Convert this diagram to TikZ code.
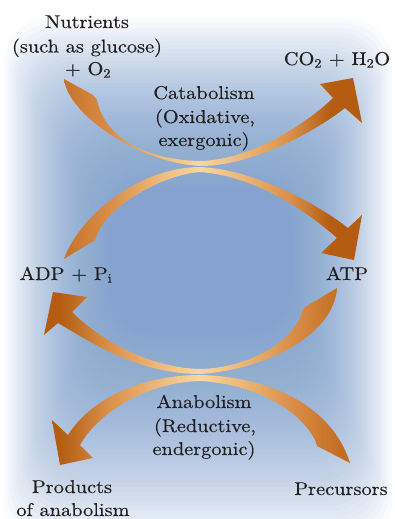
\documentclass[tikz,border=0pt]{standalone}
\usepackage{fontspec}
\setmainfont{lmroman10-regular}[Extension=.otf, FakeStretch=1.1, FakeBold=0.35]

\definecolor{ink}{HTML}{231F20}
\definecolor{bgblue}{HTML}{7CA0D0}
\definecolor{arrowhead}{HTML}{B35C12}
\definecolor{arrowtail}{HTML}{C46E24}
\definecolor{arrowmid}{HTML}{D98E48}
\definecolor{arrowsoft}{HTML}{EDB87A}
\definecolor{arrowlight}{HTML}{FAD6A0}

% x positions 0..394 map to 25bp..75bp of the shading
\pgfdeclarehorizontalshading{headright}{100bp}{color(0bp)=(arrowtail); color(32bp)=(arrowtail); color(39bp)=(arrowmid); color(45bp)=(arrowsoft); color(50.4bp)=(arrowlight); color(55.5bp)=(arrowsoft); color(62bp)=(arrowmid); color(67bp)=(arrowhead); color(100bp)=(arrowhead)}
\pgfdeclarehorizontalshading{headleft}{100bp}{color(0bp)=(arrowhead); color(32.5bp)=(arrowhead); color(38.5bp)=(arrowmid); color(45bp)=(arrowsoft); color(50.2bp)=(arrowlight); color(55.5bp)=(arrowsoft); color(62bp)=(arrowmid); color(68bp)=(arrowtail); color(100bp)=(arrowtail)}

\tikzset{
  lbl/.style={text=ink, inner sep=0pt, anchor=base, font=\fontsize{18.5}{23.5}\selectfont},
  haze/.style={fill=bgblue, fill opacity=0.04, rounded corners=45pt}
}

\begin{document}
\begin{tikzpicture}[x=1pt, y=-1pt]
\useasboundingbox (0,0) rectangle (394,519);
\fill[white] (0,0) rectangle (394,519);

% soft blue backdrop built from stacked translucent layers
\foreach \i in {0,...,47}{
  \pgfmathsetmacro\f{(\i/47)^0.9}
  \pgfmathsetmacro\xl{4+\f*106}
  \pgfmathsetmacro\xr{392-\f*100}
  \pgfmathsetmacro\yt{18+\f*172}
  \pgfmathsetmacro\yb{545-\f*215}
  \fill[haze] (\xl,\yt) rectangle (\xr,\yb);
}

% catabolism: nutrients -> CO2 + H2O
\begin{scope}
  \clip (64,79) .. controls (68,115) and (140,163) .. (200,166)
        .. controls (250,166) and (310,135) .. (345,108)
        -- (362,123) -- (353,78) -- (320,84) -- (333,98)
        .. controls (305,125) and (250,160) .. (200,161)
        .. controls (150,160) and (105,140) .. (97,100) -- (93,95) -- cycle;
  \shade[shading=headright] (0,0) rectangle (394,519);
\end{scope}

% catabolism: ADP + Pi -> ATP
\begin{scope}
  \clip (64,259) .. controls (80,215) and (140,167) .. (200,167)
        .. controls (250,169) and (312,200) .. (348,228)
        -- (362,215) -- (354,260) -- (321,253) -- (337,238)
        .. controls (305,210) and (255,176) .. (200,172)
        .. controls (165,174) and (108,205) .. (97,235) -- (95,240) -- cycle;
  \shade[shading=headright] (0,0) rectangle (394,519);
\end{scope}

% anabolism: ATP -> ADP + Pi
\begin{scope}
  \clip (337,288) .. controls (334,335) and (265,370) .. (200,374)
        .. controls (140,374) and (95,345) .. (58,323)
        -- (44,335) -- (53,292) -- (87,297) -- (72,312)
        .. controls (100,340) and (150,368) .. (200,369)
        .. controls (250,368) and (295,340) .. (302,312) -- (305,307) -- cycle;
  \shade[shading=headleft] (0,0) rectangle (394,519);
\end{scope}

% anabolism: precursors -> products
\begin{scope}
  \clip (350,463) .. controls (330,400) and (260,376) .. (200,375)
        .. controls (140,375) and (90,400) .. (68,435)
        -- (52,420) -- (60,465) -- (93,458) -- (80,445)
        .. controls (100,410) and (150,382) .. (200,381)
        .. controls (255,384) and (300,410) .. (315,440) -- (317,446) -- cycle;
  \shade[shading=headleft] (0,0) rectangle (394,519);
\end{scope}

% labels
\node[lbl] (nut1) at (87,28) {Nutrients};
\node[lbl] (nut2) at (87,52.5) {(such as glucose)};
\node[lbl] (nut3) at (88,75) {+ O\textsubscript{2}};
\node[lbl] (waste) at (337,65) {CO\textsubscript{2} + H\textsubscript{2}O};
\node[lbl] (cat1) at (204,99) {Catabolism};
\node[lbl] (cat2) at (205,123) {(Oxidative,};
\node[lbl] (cat3) at (204,146) {exergonic)};
\node[lbl] (adp) at (66,280) {ADP + P\textsubscript{i}};
\node[lbl] (atp) at (347,280) {ATP};
\node[lbl] (ana1) at (204,408) {Anabolism};
\node[lbl] (ana2) at (205,432) {(Reductive,};
\node[lbl] (ana3) at (204,455) {endergonic)};
\node[lbl] (prod1) at (72,493) {Products};
\node[lbl] (prod2) at (73,516) {of anabolism};
\node[lbl] (prec) at (341,495) {Precursors};
\end{tikzpicture}
\end{document}
